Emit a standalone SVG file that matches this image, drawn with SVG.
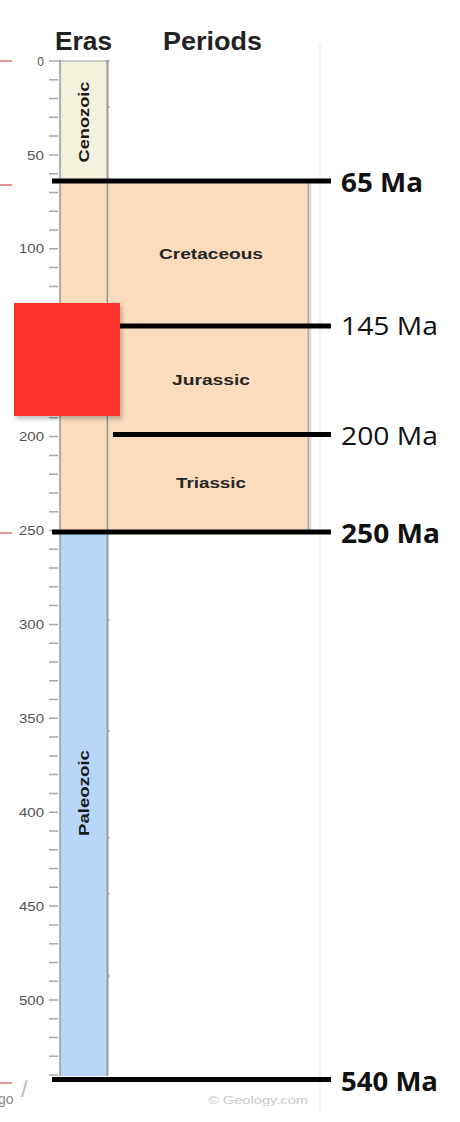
<svg xmlns="http://www.w3.org/2000/svg" width="460" height="1122" viewBox="0 0 460 1122">
<style>
.ax{font-family:"Liberation Sans",Arial,sans-serif;font-size:12px;fill:#555;text-anchor:end}
.hd{font-family:"Liberation Sans",Arial,sans-serif;font-size:25px;font-weight:bold;fill:#222}
.era{font-family:"Liberation Sans",Arial,sans-serif;font-size:14px;font-weight:bold;fill:#1a1a1a;text-anchor:middle}
.per{font-family:"Liberation Sans",Arial,sans-serif;font-size:14px;font-weight:bold;fill:#262626;text-anchor:middle}
.ma{font-family:"Open Sans","Liberation Sans",sans-serif;font-size:25px;fill:#111}
.mab{font-family:"Open Sans","Liberation Sans",sans-serif;font-size:27px;font-weight:bold;fill:#111}
.bl{stroke:#000;stroke-width:5;fill:none}
</style>
<defs>
<filter id="sh" x="-20%" y="-20%" width="150%" height="150%">
<feDropShadow dx="2" dy="3" stdDeviation="2" flood-color="#000" flood-opacity="0.25"/>
</filter>
</defs>
<rect width="460" height="1122" fill="#fff"/>
<line x1="320" y1="45" x2="320" y2="1110" stroke="#eee" stroke-width="1.5"/>
<g id="headers">
<text class="hd" x="55" y="50" textLength="57" lengthAdjust="spacingAndGlyphs">Eras</text>
<text class="hd" x="163" y="50" textLength="99" lengthAdjust="spacingAndGlyphs">Periods</text>
</g>
<g id="red-ticks" stroke="#e07070" stroke-width="1.5">
<line x1="0" y1="61" x2="12" y2="61"/>
<line x1="0" y1="185" x2="12" y2="185"/>
<line x1="0" y1="533" x2="12" y2="533"/>
<line x1="0" y1="1083" x2="12" y2="1083"/>
</g>
<g id="axis">
<path stroke="#aaa" stroke-width="1.5" fill="none" d="M49 61h9M49 79.8h9M49 98.6h9M49 117.3h9M49 136.1h9M49 154.9h9M49 173.7h9M49 192.5h9M49 211.2h9M49 230h9M49 248.8h9M49 267.6h9M49 286.4h9M49 305.1h9M49 323.9h9M49 342.7h9M49 361.5h9M49 380.3h9M49 399h9M49 417.8h9M49 436.6h9M49 455.4h9M49 474.2h9M49 492.9h9M49 511.7h9M49 530.5h9M49 549.3h9M49 568.1h9M49 586.8h9M49 605.6h9M49 624.4h9M49 643.2h9M49 662h9M49 680.7h9M49 699.5h9M49 718.3h9M49 737.1h9M49 755.9h9M49 774.6h9M49 793.4h9M49 812.2h9M49 831h9M49 849.8h9M49 868.5h9M49 887.3h9M49 906.1h9M49 924.9h9M49 943.7h9M49 962.4h9M49 981.2h9M49 1000h9M49 1018.8h9M49 1037.6h9M49 1056.3h9M49 1075.1h9"/>
<text class="ax" x="44" y="65.5">0</text>
<text class="ax" x="44" y="159.5" textLength="17" lengthAdjust="spacingAndGlyphs">50</text>
<text class="ax" x="44" y="253" textLength="25" lengthAdjust="spacingAndGlyphs">100</text>
<text class="ax" x="44" y="441" textLength="25" lengthAdjust="spacingAndGlyphs">200</text>
<text class="ax" x="44" y="535" textLength="25" lengthAdjust="spacingAndGlyphs">250</text>
<text class="ax" x="44" y="628.5" textLength="25" lengthAdjust="spacingAndGlyphs">300</text>
<text class="ax" x="44" y="722.5" textLength="25" lengthAdjust="spacingAndGlyphs">350</text>
<text class="ax" x="44" y="816.5" textLength="25" lengthAdjust="spacingAndGlyphs">400</text>
<text class="ax" x="44" y="910.5" textLength="25" lengthAdjust="spacingAndGlyphs">450</text>
<text class="ax" x="44" y="1004.5" textLength="25" lengthAdjust="spacingAndGlyphs">500</text>
</g>
<g id="cenozoic">
<rect x="60" y="61" width="47" height="121" fill="#f3f2dc"/>
<text class="era" transform="translate(89,122) rotate(-90)" textLength="81" lengthAdjust="spacingAndGlyphs">Cenozoic</text>
</g>
<g id="mesozoic">
<rect x="60" y="181" width="47" height="351" fill="#fcdcbc"/>
</g>
<g id="paleozoic">
<rect x="60" y="532" width="47" height="544" fill="#b7d6f8"/>
<text class="era" transform="translate(89,793) rotate(-90)" textLength="86" lengthAdjust="spacingAndGlyphs">Paleozoic</text>
</g>
<g id="eras-borders" stroke="#999" fill="none">
<line x1="60" y1="60" x2="60" y2="1076" stroke-width="1.5"/>
<line x1="107.5" y1="60" x2="107.5" y2="1076" stroke-width="2"/>
<line x1="58" y1="61" x2="110" y2="61" stroke-width="1"/>
<path stroke-width="1.2" d="M107 107h3M107 620h3M107 731h3M107 838h3M107 894h3M107 976h3"/>
</g>
<g id="cretaceous">
<rect x="108.5" y="181" width="199.5" height="145" fill="#fcdcbc"/>
<text class="per" x="211" y="259" textLength="104" lengthAdjust="spacingAndGlyphs">Cretaceous</text>
</g>
<g id="jurassic">
<rect x="108.5" y="326" width="199.5" height="109" fill="#fcdcbc"/>
<text class="per" x="211" y="385" textLength="78" lengthAdjust="spacingAndGlyphs">Jurassic</text>
</g>
<g id="triassic">
<rect x="108.5" y="435" width="199.5" height="97" fill="#fcdcbc"/>
<text class="per" x="211" y="488" textLength="70" lengthAdjust="spacingAndGlyphs">Triassic</text>
</g>
<line x1="308.5" y1="181" x2="308.5" y2="532" stroke="#aaa" stroke-width="2"/>
<line x1="310.5" y1="181" x2="310.5" y2="532" stroke="#ddd" stroke-width="2"/>
<g id="connectors">
<line class="bl" x1="52" y1="181" x2="331" y2="181"/>
<line class="bl" x1="112" y1="326" x2="331" y2="326"/>
<line class="bl" x1="113" y1="434.5" x2="331" y2="434.5"/>
<line class="bl" x1="52" y1="532" x2="331" y2="532"/>
<line class="bl" x1="52" y1="1079.5" x2="331" y2="1079.5"/>
</g>
<g id="labels">
<text class="mab" x="341" y="191.5" textLength="82" lengthAdjust="spacingAndGlyphs">65 Ma</text>
<text class="ma" x="341" y="335" textLength="97" lengthAdjust="spacingAndGlyphs">145 Ma</text>
<text class="ma" x="341" y="444.5" textLength="97" lengthAdjust="spacingAndGlyphs">200 Ma</text>
<text class="mab" x="341" y="542.5" textLength="99" lengthAdjust="spacingAndGlyphs">250 Ma</text>
<text class="mab" x="341" y="1091" textLength="97" lengthAdjust="spacingAndGlyphs">540 Ma</text>
</g>
<g id="red-square">
<rect x="14" y="303" width="106" height="113" fill="#fa312c" filter="url(#sh)"/>
</g>
<g id="footer">
<text x="-2" y="1104" font-family="'Liberation Sans',Arial,sans-serif" font-size="14" fill="#888">go</text>
<text x="21" y="1097" font-family="'Liberation Sans',Arial,sans-serif" font-size="24" fill="#bbb">/</text>
<text x="208" y="1104" font-family="'Liberation Sans',Arial,sans-serif" font-size="10" fill="#c8c8c8" textLength="100" lengthAdjust="spacingAndGlyphs">© Geology.com</text>
</g>
</svg>
